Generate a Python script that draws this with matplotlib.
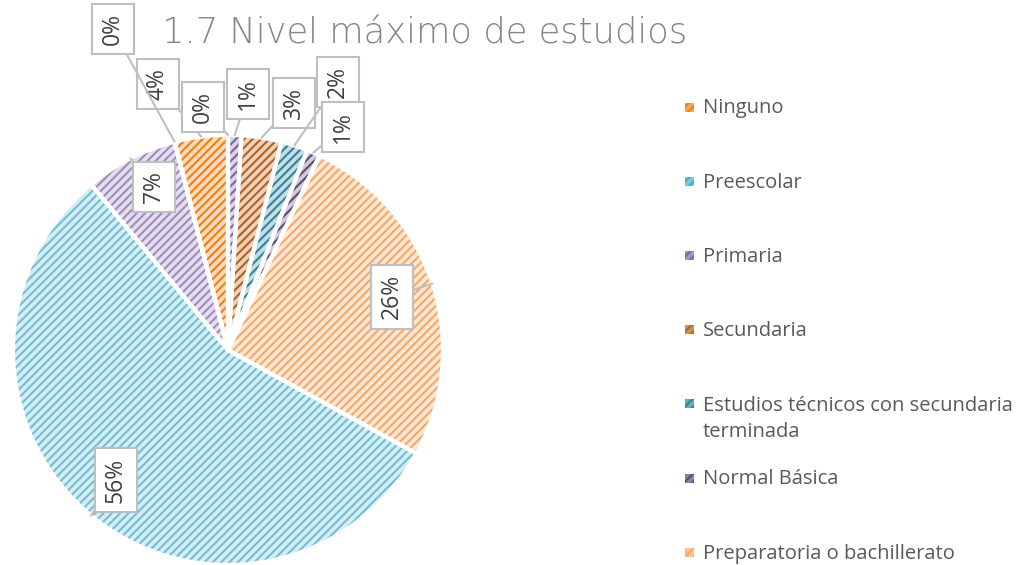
import numpy as np
import matplotlib
matplotlib.use('Agg')
import matplotlib.pyplot as plt
from matplotlib.colors import to_rgb
from matplotlib.patches import Rectangle

# %%
# Data (percent of respondents)
categories = [
    'Ninguno', 'Preescolar', 'Primaria', 'Secundaria',
    'Estudios técnicos con secundaria\nterminada', 'Normal Básica',
    'Preparatoria o bachillerato', 'Licenciatura', 'Posgrado', 'Otro',
]
values = [4, 0, 1, 3, 2, 1, 26, 56, 7, 0]
labels = ['4%', '0%', '1%', '3%', '2%', '1%', '26%', '56%', '7%', '0%']
n_legend = 7   # legend in the original only shows the first seven entries

colors = ['#F07F12', '#4BACC6', '#8064A2', '#B8601A', '#31859C',
          '#5F497A', '#F9A868', '#6FC0D5', '#A08BC0', '#974806']

# label box centres (data units, pie radius = 1)
label_pos = [(-0.326, 1.237), (-0.116, 1.130), (0.093, 1.191), (0.307, 1.149),
             (0.512, 1.247), (0.535, 1.037), (0.763, 0.247), (-0.521, -0.605),
             (-0.344, 0.758), (-0.535, 1.493)]


def tint(c, f):
    r, g, b = to_rgb(c)
    return (r + (1 - r) * f, g + (1 - g) * f, b + (1 - b) * f)


# %%
plt.rcParams['hatch.linewidth'] = 1.5
W, H = 1036, 565
fig = plt.figure(figsize=(W / 100, H / 100), dpi=100)

cx, cy, R = 228, 350, 215
ax = fig.add_axes([(cx - R) / W, (H - cy - R) / H, 2 * R / W, 2 * R / H])

# first slice ends at 12 o'clock, slices run clockwise
start = 90 + 360 * values[0] / sum(values)
wedges, _ = ax.pie(values, startangle=start, counterclock=False, radius=1,
                   colors=[tint(c, 0.72) for c in colors])
for w, c in zip(wedges, colors):
    w.set_edgecolor(c)
    w.set_linewidth(0)
    w.set_hatch('////')

# white separators on top
ax.pie(values, startangle=start, counterclock=False, radius=1,
       wedgeprops=dict(fill=False, edgecolor='white', linewidth=3))

ax.set_xlim(-1, 1)
ax.set_ylim(-1, 1)
ax.set_aspect('equal')
ax.axis('off')

# data labels with leader lines to the outer edge of each slice
for w, lab, (tx, ty) in zip(wedges, labels, label_pos):
    mid = np.deg2rad((w.theta1 + w.theta2) / 2)
    ex, ey = np.cos(mid), np.sin(mid)
    ax.annotate(lab, xy=(ex, ey), xytext=(tx, ty), rotation=90,
                ha='center', va='center', fontsize=16.5, color='#404040',
                family='Open Sans', annotation_clip=False,
                bbox=dict(boxstyle='square,pad=0.4', fc='white', ec='#BFBFBF', lw=1.5),
                arrowprops=dict(arrowstyle='-', color='#BFBFBF', lw=1.5,
                                shrinkA=0, shrinkB=0))

fig.text(425 / W, 1 - 44 / H, '1.7 Nivel máximo de estudios', ha='center',
         va='baseline', fontsize=25.5, color='#858585', family='DejaVu Sans',
         fontweight=200)

# legend (manual, to mimic spacing of the original)
for i in range(n_legend):
    yc = 107 + 74.2 * i
    nl = categories[i].count('\n')
    fig.patches.append(Rectangle((685 / W, 1 - (yc + 4.5) / H), 9 / W, 9 / H,
                                 transform=fig.transFigure,
                                 facecolor=tint(colors[i], 0.3), edgecolor=colors[i],
                                 linewidth=0, hatch='////'))
    fig.text(703 / W, 1 - (yc + 6.5 + 27 * nl) / H, categories[i], ha='left',
             va='baseline', fontsize=14.5, color='#595959', family='Open Sans',
             linespacing=1.45)

plt.savefig('out.png', dpi=100)
plt.close()
